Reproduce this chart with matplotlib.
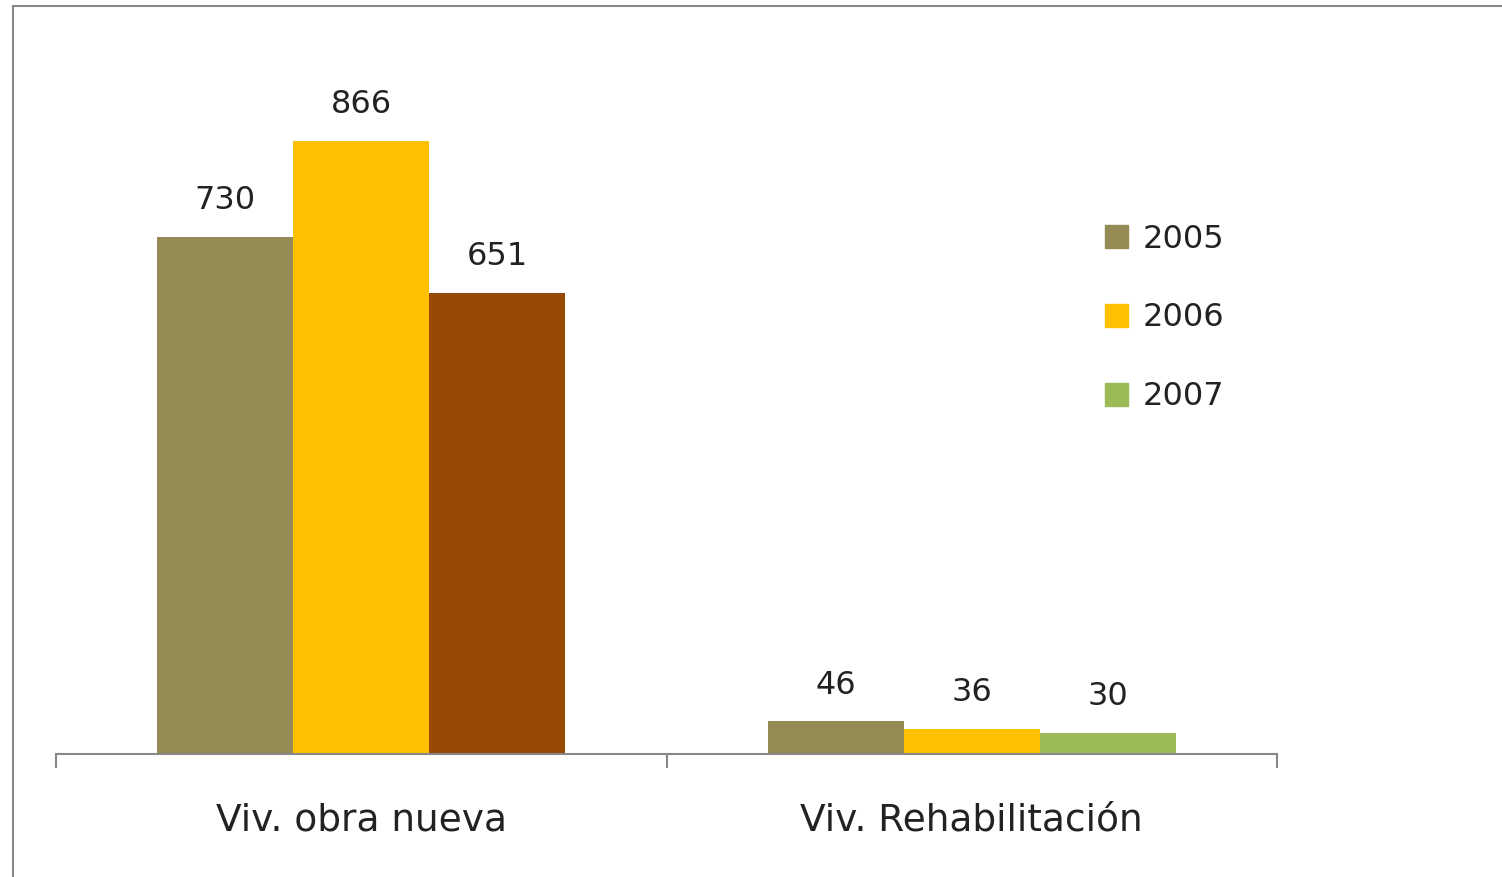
import numpy as np
import matplotlib.pyplot as plt
from matplotlib.patches import Patch, Rectangle

# data
categories = ["Viv. obra nueva", "Viv. Rehabilitación"]
years = ["2005", "2006", "2007"]
v2005 = [730, 46]
v2006 = [866, 36]
v2007 = [651, 30]

# the 2007 bar in the first group is brown, in the second one green
colors_2005 = ["#948A54", "#948A54"]
colors_2006 = ["#FFC000", "#FFC000"]
colors_2007 = ["#984807", "#9BBB59"]
legend_colors = ["#948A54", "#FFC000", "#9BBB59"]

plt.rcParams['font.family'] = ['DejaVu Sans']

fig = plt.figure(figsize=(15.02, 8.77), dpi=100)
fig.patch.set_facecolor("white")

# outer chart frame (only left and top visible in the reference)
fig.patches.append(Rectangle((13 / 1502, -0.1), 1.2, 1 - 6 / 877 + 0.1,
                             transform=fig.transFigure, fill=False,
                             edgecolor="#888888", linewidth=1.5))

ax = fig.add_axes([56 / 1502, 1 - 754 / 877, (1277 - 56) / 1502, (754 - 46) / 877])

x = np.arange(len(categories))
w = 0.223
series = [(v2005, colors_2005), (v2006, colors_2006), (v2007, colors_2007)]
for i, (vals, cols) in enumerate(series):
    bars = ax.bar(x + (i - 1) * w, vals, width=w, color=cols, linewidth=0)
    for b, v in zip(bars, vals):
        ax.annotate(str(v), (b.get_x() + b.get_width() / 2, v),
                    xytext=(0, 15), textcoords="offset points",
                    ha="center", va="bottom", fontsize=23, color="#222222")

ax.set_xlim(-0.5, 1.5)
ax.set_ylim(0, 1000)

for s in ["top", "right", "left"]:
    ax.spines[s].set_visible(False)
ax.spines["bottom"].set_color("#888888")
ax.spines["bottom"].set_linewidth(1.5)

ax.set_yticks([])
ax.set_xticks([-0.5, 0.5, 1.5])
ax.set_xticklabels([])
ax.tick_params(axis="x", direction="out", length=10, width=1.5, color="#888888")
for xi, name in zip(x, categories):
    ax.text(xi, -0.094, name, transform=ax.get_xaxis_transform(),
            ha="center", va="center", fontsize=27, color="#222222")

handles = [Patch(color=c) for c in legend_colors]
fig.legend(handles, years, loc="center left", bbox_to_anchor=(1105 / 1502, 1 - 318 / 877),
           frameon=False, fontsize=23, handlelength=0.72, handleheight=0.72,
           handletextpad=0.47, labelspacing=1.5, borderpad=0, borderaxespad=0,
           labelcolor="#222222")

fig.savefig("out.png", dpi=100)
